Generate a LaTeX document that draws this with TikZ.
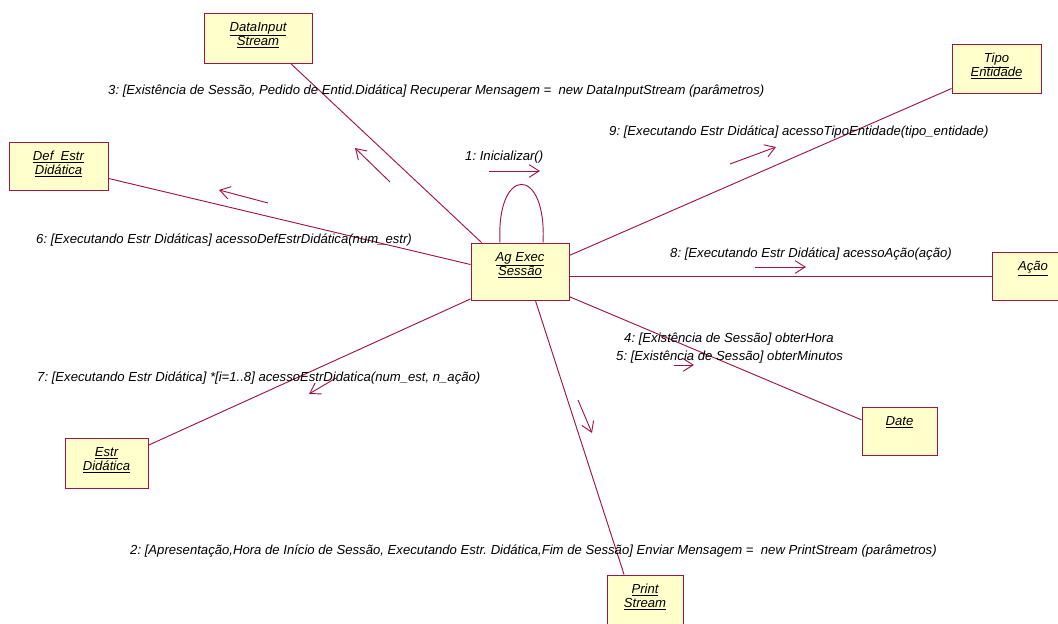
\documentclass[tikz,border=0pt]{standalone}
\usepackage{fontspec}
\setmainfont{Liberation Sans}
\usetikzlibrary{arrows.meta}

\definecolor{umlred}{RGB}{160,20,70}
\definecolor{umlfill}{RGB}{255,255,204}

\newcommand\objfont{\itshape\fontsize{11.2}{12}\selectfont\lineskiplimit=-20pt\relax}
\newcommand\msgfont{\itshape\fontsize{11.2}{12}\selectfont\frenchspacing}

\tikzset{
  obj/.style={draw=umlred, fill=umlfill, line width=0.8pt, rectangle, inner sep=0pt},
  objname/.style={anchor=north, align=center, inner sep=0pt, yshift=-0.28cm, font=\objfont},
  link/.style={draw=umlred, line width=0.8pt},
  msg/.style={draw=umlred, line width=0.8pt, -{Straight Barb[length=3mm,width=3.8mm]}},
  msglabel/.style={anchor=west, inner sep=0pt, yshift=-0.05cm, font=\msgfont}
}

\begin{document}
\begin{tikzpicture}[x=0.03cm, y=-0.03cm]
  \useasboundingbox (0,0) rectangle (1058,624);

  % Objects
  \node[obj, minimum width=2.94cm, minimum height=1.71cm] (ag) at (520,271.5) {};
  \node[objname] (agT) at (ag.north) {\underline{Ag Exec}\\\underline{Sessão}};

  \node[obj, minimum width=3.24cm, minimum height=1.5cm] (dis) at (258,38) {};
  \node[objname] (disT) at (dis.north) {\underline{DataInput}\\\underline{Stream}};

  \node[obj, minimum width=2.97cm, minimum height=1.44cm] (def) at (58.5,166) {};
  \node[objname] (defT) at (def.north) {\underline{Def\ \ Estr}\\\underline{Didática}};

  \node[obj, minimum width=2.67cm, minimum height=1.47cm] (tipo) at (996.5,68.5) {};
  \node[objname] (tipoT) at (tipo.north) {\underline{Tipo}\\\underline{Entidade}};

  \node[obj, minimum width=2.46cm, minimum height=1.44cm] (acao) at (1033,276) {};
  \node[objname] (acaoT) at (acao.north) {\underline{Ação}};

  \node[obj, minimum width=2.25cm, minimum height=1.44cm] (date) at (899.5,431.5) {};
  \node[objname] (dateT) at (date.north) {\underline{Date}};

  \node[obj, minimum width=2.49cm, minimum height=1.5cm] (estr) at (106.5,463) {};
  \node[objname] (estrT) at (estr.north) {\underline{Estr}\\\underline{Didática}};

  \node[obj, minimum width=2.28cm, minimum height=1.47cm] (print) at (645,599.5) {};
  \node[objname] (printT) at (print.north) {\underline{Print}\\\underline{Stream}};

  % Links
  \draw[link] (ag.143.8) -- (dis.-38.9);
  \draw[link] (ag.172.4) -- (def.-14.7);
  \draw[link] (ag.18.6) -- (tipo.-156.3);
  \draw[link] (ag.-6.4) -- (ag.-6.4 -| acao.west);
  \draw[link] (ag.-27.5) -- (date.163);
  \draw[link] (ag.-151.6) -- (estr.23.4);
  \draw[link] (ag.-62.2) -- (print.130.6);
  \draw[link] ([xshift=-0.6cm]ag.north) .. controls (496,165) and (547,165) .. ([xshift=0.69cm]ag.north);

  % Messages
  \draw[msg] (489,171) -- (540,171);
  \draw[msg] (390,182) -- (355,148);
  \draw[msg] (268,203) -- (219,190);
  \draw[msg] (730,164) -- (776,147);
  \draw[msg] (755,267) -- (806,267);
  \draw[msg] (674,365) -- (694,365);
  \draw[msg] (336,378) -- (309,394);
  \draw[msg] (578,400) -- (592,433);

  % Labels
  \node[msglabel] (m1) at (465,155) {1: Inicializar()};
  \node[msglabel] (m2) at (130,549) {2: [Apresentação,Hora de Início de Sessão, Executando Estr. Didática,Fim de Sessão] Enviar Mensagem =\ \ new PrintStream (parâmetros)};
  \node[msglabel] (m3) at (108,89) {3: [Existência de Sessão, Pedido de Entid.Didática] Recuperar Mensagem =\ \ new DataInputStream (parâmetros)};
  \node[msglabel] (m4) at (624,337) {4: [Existência de Sessão] obterHora};
  \node[msglabel] (m5) at (616,355) {5: [Existência de Sessão] obterMinutos};
  \node[msglabel] (m6) at (36,238) {6: [Executando Estr Didáticas] acessoDefEstrDidática(num\_estr)};
  \node[msglabel] (m7) at (37,376) {7: [Executando Estr Didática] *[i=1..8] acessoEstrDidatica(num\_est, n\_ação)};
  \node[msglabel] (m8) at (670,252) {8: [Executando Estr Didática] acessoAção(ação)};
  \node[msglabel] (m9) at (609,130) {9: [Executando Estr Didática] acessoTipoEntidade(tipo\_entidade)};
\end{tikzpicture}
\end{document}
